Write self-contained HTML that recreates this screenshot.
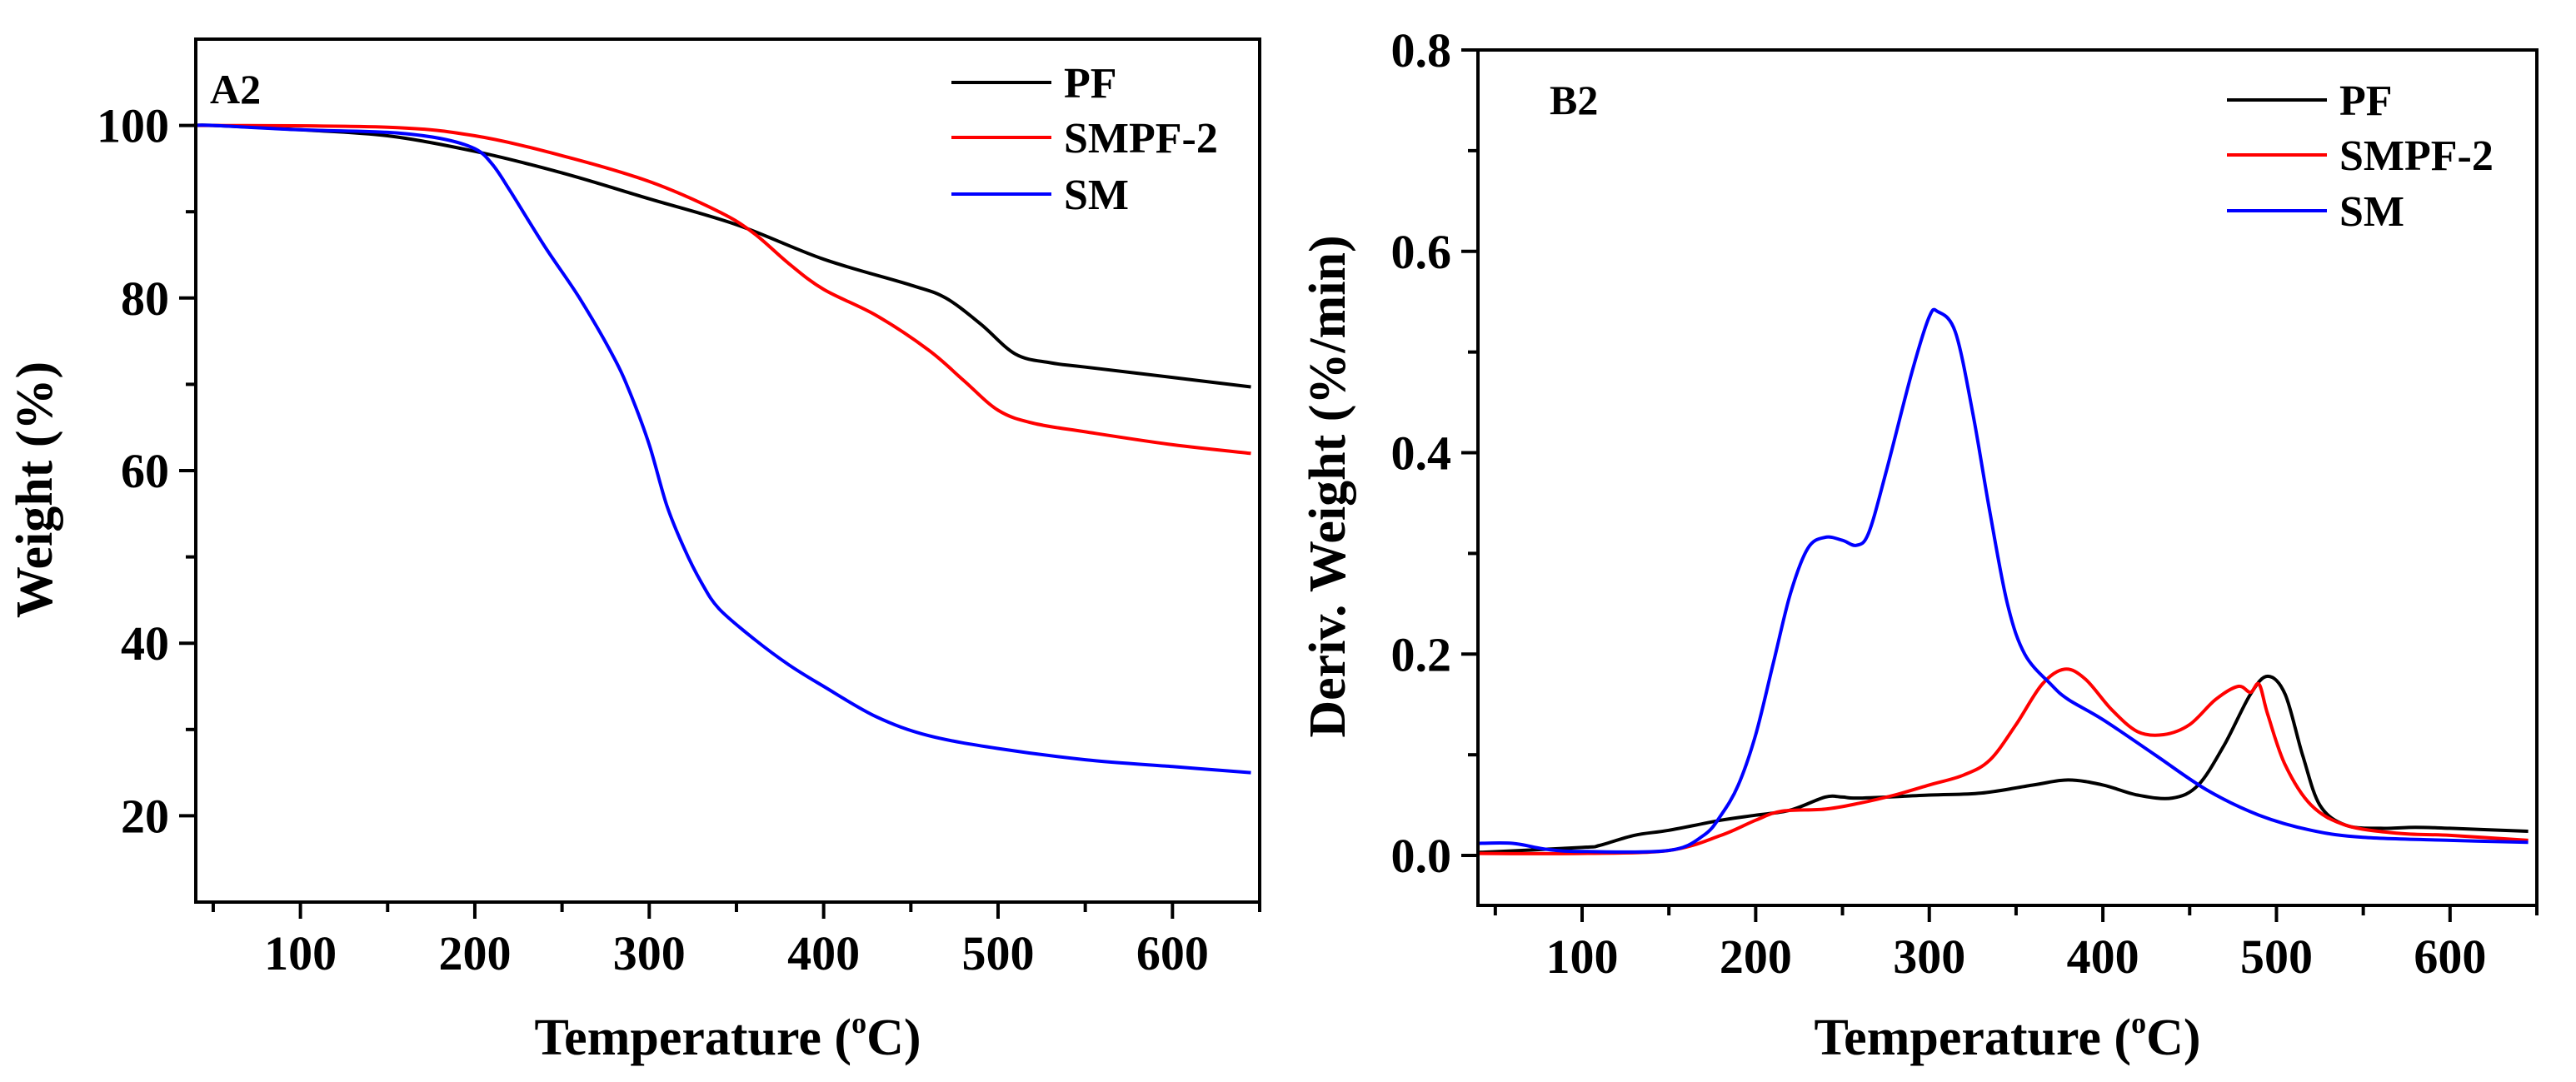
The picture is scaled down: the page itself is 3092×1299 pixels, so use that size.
<!DOCTYPE html>
<html><head><meta charset="utf-8"><style>
html,body{margin:0;padding:0;background:#fff;}
svg{display:block;}
text{font-family:"Liberation Serif",serif;font-weight:bold;fill:#000;}
</style></head><body>
<svg id="fig" width="3092" height="1299" viewBox="0 0 3092 1299" xmlns="http://www.w3.org/2000/svg"></svg>
<script>
// ---- Panel A2 (TGA) data ----
const tgaPF_T = [40,50,100,150,200,250,300,350,400,450,470,490,510,530,550,600,645];
const tgaPF_W = [100,100,99.5,98.8,97,94.5,91.5,88.5,84.5,81.5,80,77,73.5,72.5,72,70.8,69.7];
const tgaSMPF_T = [40,50,150,200,250,300,340,360,380,400,430,460,480,500,520,550,600,645];
const tgaSMPF_W = [100,100,99.8,98.8,96.5,93.5,90,87.5,84,81,78,74,70.5,67,65.5,64.5,63,62];
const tgaSM_T = [40,50,100,150,180,200,210,220,240,260,280,290,300,310,320,330,340,360,380,400,430,460,500,550,600,645];
const tgaSM_W = [100,100,99.5,99.2,98.5,97.3,95.5,92.5,86,80,73,68.5,63,56,51,47,44,40.5,37.5,35,31.5,29.3,27.8,26.5,25.7,25];
const xTicksA = [100,200,300,400,500,600];
const yTicksA = [20,40,60,80,100];
// ---- Panel B2 (DTG) data ----
const dtgSM_T = [40,60,80,100,150,170,180,190,200,210,220,230,240,250,258,265,275,290,300,305,315,325,335,345,355,370,380,400,430,460,490,520,550,600,645];
const dtgSM_D = [0.012,0.012,0.006,0.004,0.005,0.02,0.04,0.07,0.12,0.19,0.26,0.305,0.316,0.313,0.308,0.32,0.38,0.48,0.535,0.54,0.52,0.44,0.34,0.25,0.2,0.17,0.155,0.135,0.1,0.065,0.04,0.025,0.018,0.015,0.013];
const dtgPF_T = [40,100,110,130,150,180,200,220,240,250,260,300,330,360,380,400,420,440,455,470,485,495,505,515,525,540,560,580,600,645];
const dtgPF_D = [0.003,0.008,0.01,0.02,0.025,0.035,0.04,0.045,0.058,0.058,0.057,0.06,0.062,0.07,0.075,0.07,0.06,0.057,0.07,0.11,0.16,0.178,0.16,0.1,0.05,0.03,0.027,0.028,0.027,0.024];
const dtgSMPF_T = [40,100,150,180,200,215,240,260,280,300,320,335,350,365,378,390,405,420,435,450,465,478,485,490,495,505,520,540,570,600,645];
const dtgSMPF_D = [0.002,0.002,0.005,0.02,0.035,0.044,0.046,0.052,0.06,0.07,0.08,0.095,0.13,0.17,0.185,0.175,0.145,0.123,0.12,0.13,0.155,0.168,0.162,0.17,0.14,0.09,0.05,0.03,0.022,0.02,0.015];
const xTicksB = [100,200,300,400,500,600];
const yTicksB = [0.0,0.2,0.4,0.6,0.8];
const yTicksBLabels = ["0.0","0.2","0.4","0.6","0.8"];

const NS="http://www.w3.org/2000/svg";
const svg=document.getElementById('fig');
function mk(tag,attrs,parent){const e=document.createElementNS(NS,tag);for(const k in attrs)e.setAttribute(k,attrs[k]);(parent||svg).appendChild(e);return e;}
function smooth(pts){let d='M'+pts[0][0].toFixed(1)+','+pts[0][1].toFixed(1);
 for(let i=0;i<pts.length-1;i++){const p0=pts[i-1]||pts[i],p1=pts[i],p2=pts[i+1],p3=pts[i+2]||p2;
  const c1=[p1[0]+(p2[0]-p0[0])/6,p1[1]+(p2[1]-p0[1])/6],c2=[p2[0]-(p3[0]-p1[0])/6,p2[1]-(p3[1]-p1[1])/6];
  d+=' C'+c1.map(v=>v.toFixed(1)).join(',')+' '+c2.map(v=>v.toFixed(1)).join(',')+' '+p2[0].toFixed(1)+','+p2[1].toFixed(1);}
 return d;}

function panel(cfg){
 const g=mk('g',{});
 
 
 const {L,R,T,B,xmin,xmax,ymin,ymax}=cfg;
 const sx=v=>L+(v-xmin)/(xmax-xmin)*(R-L);
 const sy=v=>B-(v-ymin)/(ymax-ymin)*(B-T);
 // series
 cfg.series.forEach(s=>{
  const pts=s.x.map((t,i)=>[sx(t),sy(s.y[i])]);
  const p=mk('path',{d:smooth(pts),fill:'none',stroke:s.color,'stroke-width':4,'stroke-linejoin':'round'},g);
  
  
 });
 // frame
 const fr=mk('rect',{x:L,y:T,width:R-L,height:B-T,fill:'none',stroke:'#000','stroke-width':4},g);
 
 
 // x ticks
 for(let v=50;v<=xmax;v+=50){const x=sx(v);const major=v%100===0;
  mk('line',{x1:x,x2:x,y1:B,y2:B+(major?20:12),stroke:'#000','stroke-width':4},g);}
 cfg.xTicks.forEach(v=>{const t=mk('text',{x:sx(v),y:B+81,'font-size':58,'text-anchor':'middle'},g);t.textContent=v;
  
  });
 // y ticks
 cfg.yMinor.forEach(v=>{mk('line',{x1:L,x2:L-12,y1:sy(v),y2:sy(v),stroke:'#000','stroke-width':4},g);});
 cfg.yTicks.forEach((v,i)=>{mk('line',{x1:L,x2:L-20,y1:sy(v),y2:sy(v),stroke:'#000','stroke-width':4},g);
  const t=mk('text',{x:L-32,y:sy(v)+20,'font-size':58,'text-anchor':'end'},g);t.textContent=cfg.yLabels[i];
  
  });
 // titles
 const xt=mk('text',{x:(L+R)/2,y:1266,'font-size':62,'text-anchor':'middle'},g);
 xt.innerHTML='Temperature (<tspan font-size="36" dy="-26">o</tspan><tspan dy="26">C)</tspan>';
 
 
 const yt=mk('text',{x:0,y:0,'font-size':62,'text-anchor':'middle',transform:`translate(${cfg.ytx},${cfg.yty}) rotate(-90)`},g);
 yt.textContent=cfg.ytitle;
 
 
 const pl=mk('text',{x:cfg.plx,y:cfg.ply,'font-size':50},g);pl.textContent=cfg.panelLabel;
 
 
 // legend
 cfg.series.forEach((s,i)=>{const y=cfg.legY[i];
  const lg=mk('g',{},g);
  
  
  mk('line',{x1:cfg.legX,x2:cfg.legX+120,y1:y,y2:y,stroke:s.color,'stroke-width':4},lg);
  const t=mk('text',{x:cfg.legX+135,y:y+18,'font-size':52},lg);t.textContent=s.label;});
}

panel({name:'tga-panel-a2',L:235,R:1512,T:47,B:1083,xmin:40,xmax:650,ymin:10,ymax:110,
 xTicks:xTicksA,yTicks:yTicksA,yLabels:yTicksA.map(String),yMinor:[30,50,70,90],
 ytitle:'Weight (%)',ytx:62,yty:588,panelLabel:'A2',plx:252,ply:124,
 legX:1142,legY:[99,165,233],
 series:[{id:'pf',label:'PF',color:'#000',x:tgaPF_T,y:tgaPF_W},
  {id:'smpf-2',label:'SMPF-2',color:'#ff0000',x:tgaSMPF_T,y:tgaSMPF_W},
  {id:'sm',label:'SM',color:'#0000ff',x:tgaSM_T,y:tgaSM_W}]});

panel({name:'dtg-panel-b2',L:1774,R:3045,T:60,B:1087,xmin:40,xmax:650,ymin:-0.0496,ymax:0.8,
 xTicks:xTicksB,yTicks:yTicksB,yLabels:yTicksBLabels,yMinor:[0.1,0.3,0.5,0.7],
 ytitle:'Deriv. Weight (%/min)',ytx:1614,yty:584,panelLabel:'B2',plx:1860,ply:137,
 legX:2673,legY:[120,186,253],
 series:[{id:'pf',label:'PF',color:'#000',x:dtgPF_T,y:dtgPF_D},
  {id:'smpf-2',label:'SMPF-2',color:'#ff0000',x:dtgSMPF_T,y:dtgSMPF_D},
  {id:'sm',label:'SM',color:'#0000ff',x:dtgSM_T,y:dtgSM_D}]});
</script>
</body></html>
